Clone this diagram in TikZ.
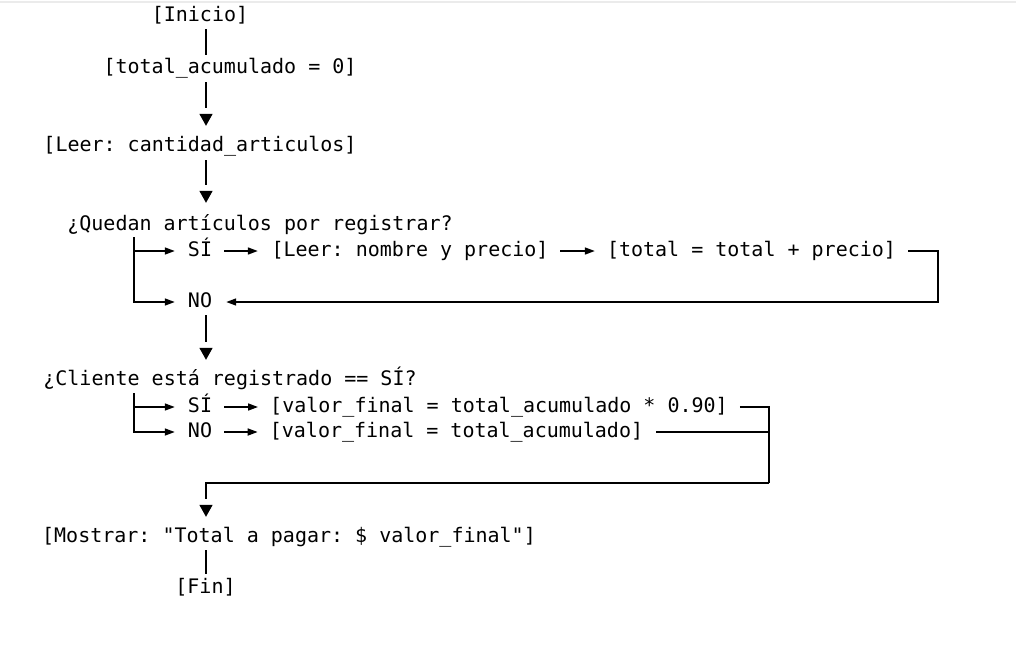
\documentclass[tikz,border=0pt]{standalone}
\usepackage{fontspec}
\newfontfamily\codigo{DejaVu Sans Mono}
\usetikzlibrary{arrows.meta, decorations.markings}
\newcommand{\guion}{\char"5F}

\begin{document}
\begin{tikzpicture}[
        x=1pt, y=-1pt,
        paso/.style={inner sep=0pt, text height=15pt, text depth=4pt, font=\codigo\fontsize{20}{24}\selectfont\frenchspacing},
        linea/.style={line width=1.6pt},
        flecha/.style={line width=1.6pt, -{Triangle[length=10pt, width=7pt]}},
        baja/.style={line width=1.6pt, shorten >=#1+18pt,
            postaction={decorate, decoration={markings,
                mark=at position -#1 with {\arrow{Triangle[length=12pt, width=13pt]}}}}}
    ]
    \useasboundingbox (0,0) rectangle (1016,659);
    \draw[black!8, line width=2pt] (0,2) -- (1016,2);

    \node[paso] (inicio) at (200,16) {[Inicio]};
    \node[paso] (acum) at (230,68) {[total\guion acumulado = 0]};
    \node[paso] (leer) at (200,146) {[Leer: cantidad\guion articulos]};
    \node[paso] (quedan) at (260,225) {¿Quedan artículos por registrar?};
    \node[paso] (si1) at (200,251) {SÍ};
    \node[paso] (leer2) at (410,251) {[Leer: nombre y precio]};
    \node[paso] (suma) at (751.5,251) {[total = total + precio]};
    \node[paso] (no1) at (200,302) {NO};
    \node[paso] (cliente) at (230,380) {¿Cliente está registrado == SÍ?};
    \node[paso] (si2) at (200,407) {SÍ};
    \node[paso] (desc) at (499,407) {[valor\guion final = total\guion acumulado * 0.90]};
    \node[paso] (no2) at (200,432) {NO};
    \node[paso] (sindesc) at (456.5,432) {[valor\guion final = total\guion acumulado]};
    \node[paso] (mostrar) at (289,537) {[Mostrar: "Total a pagar: \$ valor\guion final"]};
    \node[paso] (fin) at (205.5,588) {[Fin]};

    \coordinate (eje) at (206,0);
    \coordinate (rama) at (134,0);
    \coordinate (vuelta) at (938,251);
    \coordinate (junta) at (769,483);

    \draw[linea, shorten <=3.5pt, shorten >=3.5pt] (inicio.south -| eje) -- (acum.north -| eje);
    \draw[baja=10.5pt, shorten <=4.5pt] (acum.south -| eje) -- (leer.north -| eje);
    \draw[baja=12.5pt, shorten <=4.5pt] (leer.south -| eje) -- (quedan.north -| eje);

    \draw[flecha, shorten <=2.5pt, shorten >=13pt] (quedan.south -| rama) |- (si1.west);
    \draw[flecha, shorten <=2.5pt, shorten >=13pt] (quedan.south -| rama) |- (no1.west);
    \draw[flecha, shorten <=12pt, shorten >=13.5pt] (si1) -- (leer2);
    \draw[flecha, shorten <=11.5pt, shorten >=12pt] (leer2) -- (suma);
    \draw[flecha, shorten <=12pt, shorten >=14pt] (suma.east) -- (vuelta) |- (no1.east);

    \draw[baja=10.5pt, shorten <=3.5pt] (no1.south -| eje) -- (cliente.north -| eje);

    \draw[flecha, shorten <=3.5pt, shorten >=13pt] (cliente.south -| rama) |- (si2.west);
    \draw[flecha, shorten <=3.5pt, shorten >=13pt] (cliente.south -| rama) |- (no2.west);
    \draw[flecha, shorten <=12pt, shorten >=12pt] (si2) -- (desc);
    \draw[flecha, shorten <=12pt, shorten >=12pt] (no2) -- (sindesc);
    \draw[linea, shorten <=12pt] (desc.east) -| (junta);
    \draw[linea, shorten <=13pt] (sindesc.east) -| (junta);
    \draw[baja=10.5pt] (junta) -| (mostrar.north -| eje);

    \draw[linea, shorten <=3.5pt, shorten >=4.5pt] (mostrar.south -| eje) -- (fin.north -| eje);
\end{tikzpicture}
\end{document}
